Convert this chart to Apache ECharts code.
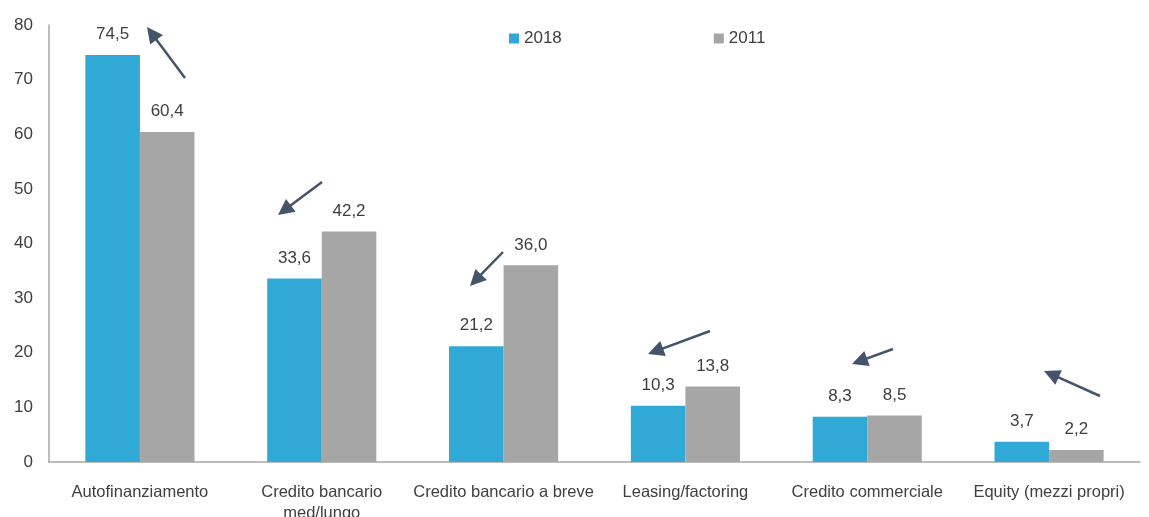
<!DOCTYPE html>
<html>
<head>
<meta charset="utf-8">
<script src="https://cdn.jsdelivr.net/npm/echarts@6/dist/echarts.min.js"></script>
<style>
  html, body { margin: 0; padding: 0; background: #fff; }
  #main { width: 1149px; height: 517px; }
</style>
</head>
<body>
<div id="main"></div>
<script>
// categorie e valori
const categories = ['Autofinanziamento', 'Credito bancario\nmed/lungo', 'Credito bancario a breve',
  'Leasing/factoring', 'Credito commerciale', 'Equity (mezzi propri)'];
const values2018 = [74.5, 33.6, 21.2, 10.3, 8.3, 3.7];
const values2011 = [60.4, 42.2, 36.0, 13.8, 8.5, 2.2];
const yTicks = [0, 10, 20, 30, 40, 50, 60, 70, 80];

// frecce decorative (pixel: da -> a)
const arrows = [
  [185, 78, 147, 27],
  [322, 182, 278, 215],
  [503, 252, 470, 286],
  [710, 331, 648, 354],
  [893, 349, 852, 364],
  [1100, 396, 1044, 371]
];

const chart = echarts.init(document.getElementById('main'));

function fmt(p) {
  return p.value.toFixed(1).replace('.', ',');
}

function arrowGraphics() {
  let list = [];
  const col = '#44546A';
  arrows.forEach(a => {
    let dx = a[2] - a[0], dy = a[3] - a[1];
    let len = Math.sqrt(dx * dx + dy * dy);
    let ux = dx / len, uy = dy / len;
    let hl = 16, hw = 8;
    let bx = a[2] - ux * hl, by = a[3] - uy * hl;
    list.push({
      type: 'line',
      shape: { x1: a[0], y1: a[1], x2: bx + ux * 2, y2: by + uy * 2 },
      style: { stroke: col, lineWidth: 2.5 }
    });
    list.push({
      type: 'polygon',
      shape: { points: [[a[2], a[3]], [bx - uy * hw, by + ux * hw], [bx + uy * hw, by - ux * hw]] },
      style: { fill: col }
    });
  });
  return list;
}

const option = {
  animation: false,
  textStyle: { fontFamily: 'Liberation Sans, Arial, sans-serif' },
  legend: {
    top: 25,
    left: 504,
    itemGap: 152,
    itemWidth: 10,
    itemHeight: 10,
    icon: 'rect',
    textStyle: { fontSize: 17, color: '#404040' },
    data: ['2018', '2011']
  },
  grid: { left: 49, right: 9, top: 25, bottom: 55, containLabel: false, outerBoundsMode: 'none' },
  xAxis: {
    type: 'category',
    data: categories,
    axisLine: { lineStyle: { color: '#A6A6A6', width: 1.5 } },
    axisTick: { show: false },
    axisLabel: { fontSize: 16.5, color: '#404040', margin: 20, lineHeight: 21, interval: 0 }
  },
  yAxis: {
    type: 'value',
    min: yTicks[0],
    max: yTicks[yTicks.length - 1],
    interval: 10,
    axisLine: { show: true, lineStyle: { color: '#A6A6A6', width: 1.5 } },
    axisTick: { show: false },
    splitLine: { show: false },
    axisLabel: { fontSize: 17, color: '#404040', margin: 16 }
  },
  series: [
    {
      name: '2018',
      type: 'bar',
      data: values2018,
      barGap: '0%',
      barCategoryGap: '40%',
      itemStyle: { color: '#31A9D6' },
      label: { show: true, position: 'top', distance: 12, fontSize: 17, color: '#404040', formatter: fmt }
    },
    {
      name: '2011',
      type: 'bar',
      data: values2011,
      barGap: '0%',
      barCategoryGap: '40%',
      itemStyle: { color: '#A6A6A6' },
      label: { show: true, position: 'top', distance: 12, fontSize: 17, color: '#404040', formatter: fmt }
    }
  ],
  graphic: arrowGraphics()
};

chart.setOption(option);
</script>
</body>
</html>
